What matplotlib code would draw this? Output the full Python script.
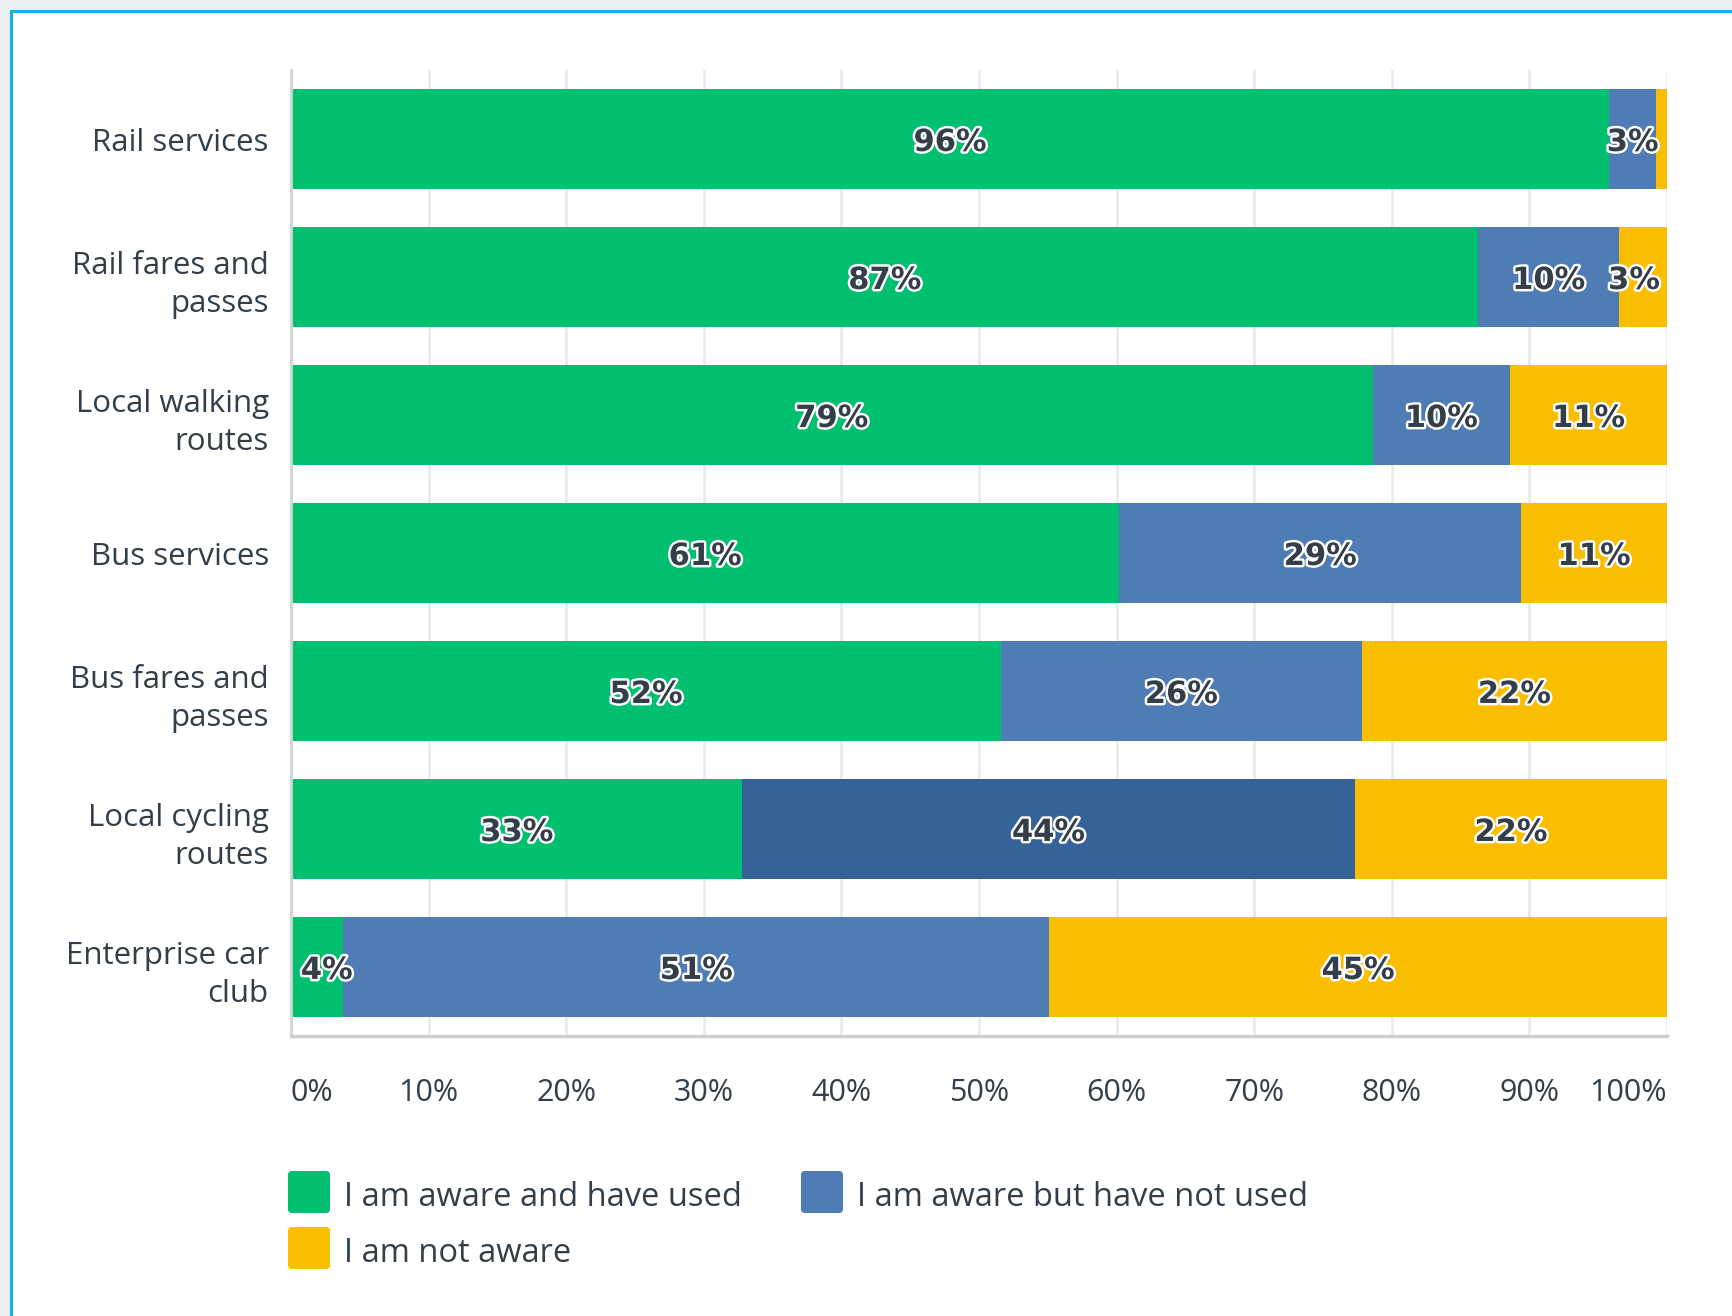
import numpy as np
import matplotlib.pyplot as plt
import matplotlib.patheffects as pe
from matplotlib.patches import Rectangle, FancyBboxPatch
from matplotlib.transforms import IdentityTransform, offset_copy

# Survey answers, percent of respondents (top row first)
categories = ["Rail services", "Rail fares and\npasses", "Local walking\nroutes",
              "Bus services", "Bus fares and\npasses", "Local cycling\nroutes",
              "Enterprise car\nclub"]
used = [95.8, 86.3, 78.6, 60.2, 51.6, 32.8, 3.8]
not_used = [3.4, 10.2, 10.0, 29.2, 26.2, 44.5, 51.3]
not_aware = [0.8, 3.5, 11.4, 10.6, 22.2, 22.7, 44.9]

used_labels = ["96%", "87%", "79%", "61%", "52%", "33%", "4%"]
not_used_labels = ["3%", "10%", "10%", "29%", "26%", "44%", "51%"]
not_aware_labels = ["", "3%", "11%", "11%", "22%", "22%", "45%"]

series_names = ["I am aware and have used", "I am aware but have not used", "I am not aware"]
colors = ["#00bf6f", "#507cb6", "#f9be00"]
highlight_blue = "#36629a"  # hovered bar in the original screenshot

text_color = "#333e48"
W, H = 1733, 1316

fig = plt.figure(figsize=(W / 100, H / 100), dpi=100)
fig.patch.set_facecolor("#e9eef1")

# white card with cyan border on top/left
fig.patches.append(Rectangle((12, 0), W - 12, H - 11, transform=IdentityTransform(),
                             facecolor="white", edgecolor="none", zorder=-10))
fig.lines.append(plt.Line2D([11, 11], [0, H - 11], transform=IdentityTransform(),
                            color="#1ab2e4", lw=2.2, zorder=-9))
fig.lines.append(plt.Line2D([11, W], [H - 11, H - 11], transform=IdentityTransform(),
                            color="#1ab2e4", lw=2.2, zorder=-9))

ax = fig.add_axes([291 / W, 1 - 1036 / H, 1376 / W, 966 / H])
ax.set_facecolor("none")

y = np.arange(len(categories))
bar_h = 100 / 138

used_a = np.array(used)
not_used_a = np.array(not_used)
not_aware_a = np.array(not_aware)

ax.barh(y, used_a, height=bar_h, color=colors[0], zorder=2)
blue_cols = [colors[1]] * len(categories)
blue_cols[5] = highlight_blue
ax.barh(y, not_used_a, left=used_a, height=bar_h, color=blue_cols, zorder=2)
ax.barh(y, not_aware_a, left=used_a + not_used_a, height=bar_h, color=colors[2], zorder=2)

stroke = [pe.withStroke(linewidth=3.5, foreground="white")]
lab_trans = offset_copy(ax.transData, fig=fig, x=0, y=-2.5, units="points")
lefts = [np.zeros(len(y)), used_a, used_a + not_used_a]
widths = [used_a, not_used_a, not_aware_a]
labels = [used_labels, not_used_labels, not_aware_labels]
for left, width, labs in zip(lefts, widths, labels):
    for i in range(len(y)):
        if not labs[i]:
            continue
        xc = min(max(left[i] + width[i] / 2, 2.6), 97.6)
        ax.text(xc, y[i], labs[i], ha="center", va="center", fontsize=22,
                fontweight="bold", color=text_color, family="DejaVu Sans",
                path_effects=stroke, zorder=4, transform=lab_trans)

ax.set_xlim(0, 100)
ax.set_ylim(len(categories) - 0.5, -0.5)
ax.set_xticks(np.arange(0, 101, 10))
ax.set_xticklabels([f"{v}%" for v in range(0, 101, 10)])
ax.grid(axis="x", color="#ebebeb", lw=2, zorder=0)
ax.set_axisbelow(True)
ax.set_yticks(y)
ax.set_yticklabels(categories, fontsize=22.5, color=text_color, family="Open Sans",
                   linespacing=1.35)
ax.tick_params(axis="both", length=0)
ax.tick_params(axis="y", pad=16)
ax.tick_params(axis="x", pad=30, labelsize=22, labelcolor=text_color)
for lab in ax.get_xticklabels():
    lab.set_family("Open Sans")
xl = ax.get_xticklabels()
xl[0].set_horizontalalignment("left")
xl[-1].set_horizontalalignment("right")

for s in ["top", "right"]:
    ax.spines[s].set_visible(False)
ax.spines["left"].set_color("#d4d4d4")
ax.spines["left"].set_linewidth(2)
ax.spines["bottom"].set_color("#cfcfcf")
ax.spines["bottom"].set_linewidth(2.5)

# legend drawn by hand (row major: two on first row, one on second)
leg_items = [(288, 1192, 0), (801, 1192, 1), (288, 1248, 2)]
for x0, yc, k in leg_items:
    fig.patches.append(FancyBboxPatch((x0 + 4, H - yc - 21 + 4), 34, 34,
                                      boxstyle="round,pad=4", transform=IdentityTransform(),
                                      facecolor=colors[k], edgecolor="none", zorder=3))
    fig.text((x0 + 56) / W, 1 - (yc + 6) / H, series_names[k], ha="left", va="center",
             fontsize=23.5, color=text_color, family="Open Sans")

fig.savefig("out.png", dpi=100, facecolor=fig.get_facecolor())
